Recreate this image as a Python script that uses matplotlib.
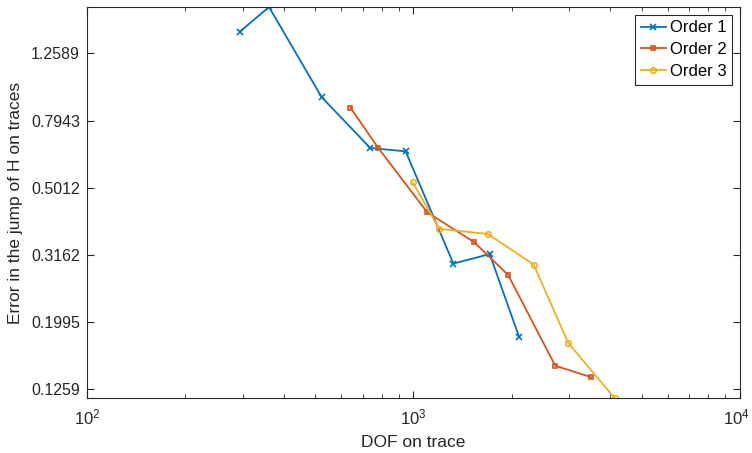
import numpy as np
import matplotlib
matplotlib.use("Agg")
import matplotlib.pyplot as plt
import matplotlib.transforms as mtransforms
from matplotlib.ticker import FixedLocator, NullLocator, LogLocator, NullFormatter

plt.rcParams["font.family"] = ["Liberation Sans", "DejaVu Sans"]
plt.rcParams["mathtext.fontset"] = "custom"
plt.rcParams["mathtext.rm"] = "Liberation Sans"
plt.rcParams["mathtext.it"] = "Liberation Sans:italic"

# Data
dof_1 = [294, 361, 523, 737, 946, 1325, 1712, 2104]
err_1 = [1.461, 1.729, 0.933, 0.658, 0.643, 0.298, 0.318, 0.1807]

dof_2 = [641, 780, 1103, 1535, 1950, 2717, 3498]
err_2 = [0.868, 0.658, 0.423, 0.345, 0.2755, 0.148, 0.1368]

dof_3 = [995, 1200, 1690, 2334, 2978, 4130]
err_3 = [0.520, 0.378, 0.365, 0.296, 0.173, 0.1186]

labels = ["Order 1", "Order 2", "Order 3"]
colors = ["#0072BD", "#D95319", "#EDB120"]
yticks = [0.1259, 0.1995, 0.3162, 0.5012, 0.7943, 1.2589]

axcol = "#262626"

fig = plt.figure(figsize=(7.52, 4.53), dpi=100)
ax = fig.add_axes([0.1157, 0.1214, 0.8683, 0.8631])

ax.loglog(dof_1, err_1, "-x", color=colors[0], lw=1.3, ms=4, mew=1.2, label=labels[0])
ax.loglog(dof_2, err_2, "-s", color=colors[1], lw=1.3, ms=3.5, mfc="none", mew=1.2, label=labels[1])
ax.loglog(dof_3, err_3, "-o", color=colors[2], lw=1.3, ms=4, mfc="none", mew=1.2, label=labels[2])

ax.set_xlim(1e2, 1e4)
ymin = min(err_1 + err_2 + err_3)
ymax = max(err_1 + err_2 + err_3)
ax.set_ylim(ymin, ymax)

ax.yaxis.set_major_locator(FixedLocator(yticks))
ax.yaxis.set_minor_locator(NullLocator())
ax.set_yticklabels([f"{v:.4f}" for v in yticks])
ax.xaxis.set_major_locator(FixedLocator([1e2, 1e3, 1e4]))
ax.xaxis.set_minor_locator(LogLocator(base=10, subs=np.arange(2, 10)))
ax.xaxis.set_minor_formatter(NullFormatter())
ax.set_xticklabels(["$10^{2}$", "$10^{3}$", "$10^{4}$"])

ax.tick_params(which="both", direction="in", top=True, right=True,
               colors=axcol, labelsize=11.5, pad=5)
ax.tick_params(axis="x", which="major", labelsize=12, pad=7)
ax.tick_params(which="major", length=5, width=0.8)
ax.tick_params(which="minor", length=3, width=0.6)
for s in ax.spines.values():
    s.set_color(axcol)
    s.set_linewidth(0.8)

# keep the 10^4 label inside the canvas
last = ax.get_xticklabels()[-1]
last.set_transform(last.get_transform() +
                   mtransforms.ScaledTranslation(-4 / 100, 0, fig.dpi_scale_trans))

ax.set_xlabel("DOF on trace", fontsize=12.5, color=axcol, labelpad=5)
ax.set_ylabel("Error in the jump of H on traces", fontsize=12.5, color=axcol, labelpad=6)

leg = ax.legend(loc="upper right", fontsize=12, fancybox=False, framealpha=1,
                edgecolor=axcol, handlelength=1.5, borderaxespad=0.45,
                labelspacing=0.4, handletextpad=0.25, borderpad=0.35)
leg.get_frame().set_linewidth(0.8)

fig.savefig("out.png", dpi=100)
